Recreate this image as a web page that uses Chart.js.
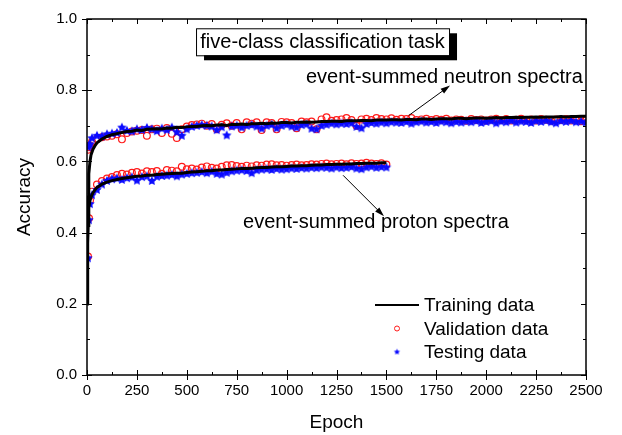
<!DOCTYPE html>
<html>
<head>
<meta charset="utf-8">
<script src="https://cdn.jsdelivr.net/npm/chart.js@4.4.1/dist/chart.umd.min.js"></script>
<style>
    html, body { margin: 0; padding: 0; background: #fff; }
    #accChart { display: block; }
</style>
</head>
<body>
<canvas id="accChart" width="622" height="435"></canvas>
<script>
const FONT = '"Liberation Sans", Arial, sans-serif';

// epochs for the training curves: a few early points, then every 25 epochs from 100
const trainEarlyEpochs = [0, 2, 4, 6, 8, 10, 15, 20, 30, 40, 50, 75];
// epochs for validation / testing markers: 5, 10, 15, then every 25 epochs from 25
const markerEarlyEpochs = [5, 10, 15];

// neutron spectra, training accuracy
const neutronTrain = [
    0.20, 0.33, 0.44, 0.50, 0.54, 0.565, 0.60, 0.618, 0.634, 0.644, 0.652, 0.663,
    0.670, 0.675, 0.678, 0.681, 0.684, 0.685, 0.688, 0.687, 0.690, 0.691,
    0.692, 0.691, 0.694, 0.693, 0.696, 0.695, 0.697, 0.698, 0.698, 0.700,
    0.701, 0.700, 0.702, 0.703, 0.701, 0.704, 0.704, 0.705, 0.704, 0.706,
    0.706, 0.707, 0.706, 0.708, 0.707, 0.709, 0.709, 0.708, 0.710, 0.710,
    0.711, 0.710, 0.711, 0.712, 0.712, 0.713, 0.713, 0.712, 0.714, 0.714,
    0.714, 0.715, 0.715, 0.714, 0.716, 0.716, 0.716, 0.717, 0.717, 0.716,
    0.718, 0.718, 0.717, 0.719, 0.719, 0.718, 0.719, 0.720, 0.720, 0.719,
    0.721, 0.721, 0.720, 0.721, 0.722, 0.722, 0.721, 0.722, 0.723, 0.722,
    0.723, 0.723, 0.724, 0.723, 0.724, 0.724, 0.725, 0.724, 0.725, 0.725,
    0.725, 0.726, 0.725, 0.726, 0.726, 0.727, 0.727
];

// proton spectra, training accuracy (stops at epoch 1500)
const protonTrain = [
    0.20, 0.30, 0.37, 0.42, 0.45, 0.47, 0.49, 0.50, 0.512, 0.52, 0.527, 0.536,
    0.542, 0.546, 0.549, 0.552, 0.554, 0.556, 0.558, 0.559, 0.561, 0.561,
    0.563, 0.564, 0.565, 0.566, 0.567, 0.567, 0.569, 0.570, 0.571, 0.572,
    0.574, 0.574, 0.576, 0.576, 0.577, 0.578, 0.579, 0.580, 0.580, 0.581,
    0.582, 0.583, 0.583, 0.584, 0.585, 0.585, 0.586, 0.587, 0.587, 0.588,
    0.588, 0.589, 0.590, 0.590, 0.591, 0.591, 0.592, 0.592, 0.593, 0.593,
    0.594, 0.594, 0.595, 0.595, 0.595, 0.596, 0.596
];

const neutronVal = [
    0.633, 0.640, 0.645,
    0.655, 0.663, 0.668, 0.670, 0.672, 0.676, 0.662, 0.680, 0.684, 0.686,
    0.688, 0.672, 0.690, 0.692, 0.680, 0.694, 0.678, 0.666, 0.690, 0.698,
    0.702, 0.704, 0.706, 0.700, 0.705, 0.690, 0.703, 0.707, 0.700, 0.708,
    0.690, 0.710, 0.706, 0.710, 0.688, 0.710, 0.708, 0.690, 0.711, 0.710,
    0.708, 0.693, 0.712, 0.710, 0.712, 0.690, 0.718, 0.724, 0.714, 0.716,
    0.718, 0.722, 0.716, 0.700, 0.718, 0.720, 0.716, 0.722, 0.719, 0.718,
    0.721, 0.717, 0.720, 0.719, 0.722, 0.716, 0.718, 0.720, 0.716, 0.719,
    0.717, 0.720, 0.715, 0.718, 0.717, 0.714, 0.719, 0.716, 0.718, 0.715,
    0.718, 0.720, 0.716, 0.719, 0.715, 0.717, 0.720, 0.716, 0.718, 0.715,
    0.719, 0.717, 0.714, 0.718, 0.716, 0.719, 0.715, 0.717, 0.713, 0.716
];

const neutronTest = [
    0.640, 0.645, 0.648,
    0.665, 0.672, 0.670, 0.676, 0.678, 0.680, 0.695, 0.686, 0.684, 0.690,
    0.688, 0.694, 0.690, 0.685, 0.692, 0.688, 0.695, 0.682, 0.672, 0.690,
    0.697, 0.700, 0.702, 0.700, 0.698, 0.688, 0.696, 0.673, 0.698, 0.700,
    0.695, 0.700, 0.702, 0.698, 0.692, 0.700, 0.703, 0.693, 0.700, 0.703,
    0.698, 0.695, 0.702, 0.704, 0.692, 0.690, 0.700, 0.703, 0.706, 0.704,
    0.706, 0.705, 0.707, 0.697, 0.693, 0.705, 0.708, 0.706, 0.709, 0.707,
    0.710, 0.709, 0.708, 0.711, 0.706, 0.710, 0.712, 0.709, 0.711, 0.708,
    0.712, 0.710, 0.707, 0.711, 0.709, 0.712, 0.710, 0.713, 0.708, 0.711,
    0.713, 0.707, 0.712, 0.710, 0.714, 0.709, 0.712, 0.711, 0.708, 0.713,
    0.711, 0.714, 0.710, 0.707, 0.713, 0.711, 0.714, 0.710, 0.712, 0.709
];

const protonVal = [
    0.333, 0.440, 0.490,
    0.515, 0.535, 0.545, 0.552, 0.556, 0.562, 0.565, 0.563, 0.568, 0.570,
    0.566, 0.572, 0.570, 0.573, 0.565, 0.576, 0.574, 0.572, 0.585, 0.578,
    0.580, 0.577, 0.583, 0.586, 0.582, 0.580, 0.585, 0.589, 0.590, 0.587,
    0.585, 0.588, 0.586, 0.589, 0.588, 0.591, 0.592, 0.589, 0.590, 0.588,
    0.590, 0.591, 0.589, 0.590, 0.592, 0.591, 0.593, 0.594, 0.592, 0.593,
    0.594, 0.592, 0.595, 0.593, 0.594, 0.596, 0.594, 0.593, 0.595, 0.591
];

const protonTest = [
    0.328, 0.435, 0.480,
    0.505, 0.520, 0.535, 0.545, 0.550, 0.552, 0.548, 0.553, 0.555, 0.546,
    0.556, 0.558, 0.545, 0.557, 0.559, 0.560, 0.562, 0.558, 0.563, 0.565,
    0.567, 0.568, 0.570, 0.567, 0.571, 0.565, 0.563, 0.568, 0.572, 0.574,
    0.575, 0.573, 0.567, 0.575, 0.577, 0.578, 0.576, 0.579, 0.577, 0.578,
    0.580, 0.579, 0.581, 0.580, 0.582, 0.581, 0.583, 0.582, 0.580, 0.583,
    0.581, 0.582, 0.584, 0.580, 0.578, 0.583, 0.585, 0.582, 0.584, 0.583
];

const legendLabels = ["Training data", "Validation data", "Testing data"];

function epochGrid(early, start, count) {
    const out = early.slice();
    for (let i = 0; i < count; i++) out.push(start + i * 25);
    return out;
}

function toPoints(epochs, values) {
    return values.map((v, i) => ({ x: epochs[i], y: v }));
}

function makeStar(r, color) {
    const c = document.createElement("canvas");
    const s = Math.ceil(r * 2) + 2;
    c.width = s;
    c.height = s;
    const g = c.getContext("2d");
    g.fillStyle = color;
    g.beginPath();
    for (let i = 0; i < 10; i++) {
        const rad = i % 2 === 0 ? r : r * 0.5;
        const a = -Math.PI / 2 + (i * Math.PI) / 5;
        g.lineTo(s / 2 + rad * Math.cos(a), s / 2 + rad * Math.sin(a));
    }
    g.closePath();
    g.fill();
    return c;
}

const trainEpochsN = epochGrid(trainEarlyEpochs, 100, neutronTrain.length - trainEarlyEpochs.length);
const trainEpochsP = epochGrid(trainEarlyEpochs, 100, protonTrain.length - trainEarlyEpochs.length);
const markEpochsN = epochGrid(markerEarlyEpochs, 25, neutronVal.length - markerEarlyEpochs.length);
const markEpochsP = epochGrid(markerEarlyEpochs, 25, protonVal.length - markerEarlyEpochs.length);

const blueStar = makeStar(5, "#0a0aff");
const legendStar = makeStar(3.2, "#0a0aff");

function lineSet(data) {
    return {
        data: data,
        showLine: true,
        borderColor: "#000",
        borderWidth: 3,
        pointRadius: 0,
        tension: 0,
    };
}

function circleSet(data) {
    return {
        data: data,
        showLine: false,
        pointStyle: "circle",
        pointRadius: 3.4,
        borderWidth: 1.2,
        borderColor: "#ff1a1a",
        backgroundColor: "rgba(255,255,255,0)",
    };
}

function starSet(data) {
    return {
        data: data,
        showLine: false,
        pointStyle: blueStar,
        pointRadius: 5,
    };
}

// frame with Origin-style ticks on all four sides
const frameTicks = {
    id: "frameTicks",
    afterDraw(chart) {
        const { ctx, chartArea: a, scales } = chart;
        const xs = scales.x;
        const ys = scales.y;
        ctx.save();
        ctx.strokeStyle = "#000";
        ctx.lineWidth = 1.5;
        ctx.strokeRect(a.left, a.top, a.right - a.left, a.bottom - a.top);
        ctx.lineWidth = 1;
        ctx.beginPath();
        const xMajor = xs.ticks.map((t) => t.value);
        const yMajor = ys.ticks.map((t) => t.value);
        xMajor.forEach((v, i) => {
            const px = Math.round(xs.getPixelForValue(v)) + 0.5;
            ctx.moveTo(px, a.bottom + 5);
            ctx.lineTo(px, a.bottom - 5);
            ctx.moveTo(px, a.top);
            ctx.lineTo(px, a.top + 5);
            if (i < xMajor.length - 1) {
                const mx = Math.round(xs.getPixelForValue((v + xMajor[i + 1]) / 2)) + 0.5;
                ctx.moveTo(mx, a.bottom);
                ctx.lineTo(mx, a.bottom - 3);
                ctx.moveTo(mx, a.top);
                ctx.lineTo(mx, a.top + 3);
            }
        });
        yMajor.forEach((v, i) => {
            const py = Math.round(ys.getPixelForValue(v)) + 0.5;
            ctx.moveTo(a.left - 5, py);
            ctx.lineTo(a.left + 5, py);
            ctx.moveTo(a.right, py);
            ctx.lineTo(a.right - 5, py);
            if (i < yMajor.length - 1) {
                const my = Math.round(ys.getPixelForValue((v + yMajor[i + 1]) / 2)) + 0.5;
                ctx.moveTo(a.left, my);
                ctx.lineTo(a.left + 3, my);
                ctx.moveTo(a.right, my);
                ctx.lineTo(a.right - 3, my);
            }
        });
        ctx.stroke();
        ctx.restore();
    },
};

function drawArrow(ctx, x1, y1, x2, y2) {
    const ang = Math.atan2(y2 - y1, x2 - x1);
    const head = 10;
    ctx.beginPath();
    ctx.moveTo(x1, y1);
    ctx.lineTo(x2 - Math.cos(ang) * head * 0.8, y2 - Math.sin(ang) * head * 0.8);
    ctx.stroke();
    ctx.beginPath();
    ctx.moveTo(x2, y2);
    ctx.lineTo(x2 - head * Math.cos(ang - 0.3), y2 - head * Math.sin(ang - 0.3));
    ctx.lineTo(x2 - head * Math.cos(ang + 0.3), y2 - head * Math.sin(ang + 0.3));
    ctx.closePath();
    ctx.fill();
}

const annotations = {
    id: "annotations",
    afterDraw(chart) {
        const { ctx, chartArea: a, scales } = chart;
        const X = (v) => scales.x.getPixelForValue(v);
        const Y = (v) => scales.y.getPixelForValue(v);
        ctx.save();
        ctx.fillStyle = "#000";
        ctx.strokeStyle = "#000";
        ctx.textBaseline = "middle";

        // title box with drop shadow
        const bw = 253, bh = 27;
        const bx = X(1180) - bw / 2;
        const by = Y(0.936) - bh / 2;
        ctx.fillRect(bx + 8, by + 5, bw, bh);
        ctx.fillStyle = "#fff";
        ctx.fillRect(bx, by, bw, bh);
        ctx.lineWidth = 1;
        ctx.strokeRect(bx + 0.5, by + 0.5, bw, bh);
        ctx.fillStyle = "#000";
        ctx.font = "20px " + FONT;
        ctx.textAlign = "center";
        ctx.fillText("five-class classification task", bx + bw / 2, by + bh / 2 + 1);

        ctx.textAlign = "left";
        ctx.fillText("event-summed neutron spectra", X(1097), Y(0.836));
        ctx.fillText("event-summed proton spectra", X(782), Y(0.428));

        ctx.lineWidth = 1;
        drawArrow(ctx, X(1612), Y(0.729), X(1819), Y(0.813));
        drawArrow(ctx, X(1283), Y(0.561), X(1488), Y(0.446));

        // legend
        const lx = a.left + 288;
        const ly = a.top + 286;
        const gap = 23.5;
        ctx.font = "19px " + FONT;
        ctx.lineWidth = 2;
        ctx.beginPath();
        ctx.moveTo(lx, ly);
        ctx.lineTo(lx + 44, ly);
        ctx.stroke();
        ctx.lineWidth = 1;
        ctx.strokeStyle = "#ff1a1a";
        ctx.beginPath();
        ctx.arc(lx + 22, ly + gap, 2.5, 0, Math.PI * 2);
        ctx.stroke();
        ctx.drawImage(legendStar, lx + 22 - legendStar.width / 2, ly + 2 * gap - legendStar.height / 2);
        ctx.fillStyle = "#000";
        legendLabels.forEach((t, i) => ctx.fillText(t, lx + 49, ly + i * gap + 1));
        ctx.restore();
    },
};

new Chart(document.getElementById("accChart"), {
    type: "scatter",
    data: {
        datasets: [
            lineSet(toPoints(trainEpochsN, neutronTrain)),
            lineSet(toPoints(trainEpochsP, protonTrain)),
            starSet(toPoints(markEpochsN, neutronTest)),
            starSet(toPoints(markEpochsP, protonTest)),
            circleSet(toPoints(markEpochsN, neutronVal)),
            circleSet(toPoints(markEpochsP, protonVal)),
        ],
    },
    options: {
        responsive: false,
        animation: false,
        events: [],
        layout: { padding: { top: 15, right: 36, left: 0, bottom: 0 } },
        plugins: { legend: { display: false }, tooltip: { enabled: false } },
        scales: {
            x: {
                type: "linear",
                min: 0,
                max: 2500,
                grid: { display: false, drawTicks: false },
                border: { display: false },
                ticks: {
                    stepSize: 250,
                    autoSkip: false,
                    maxRotation: 0,
                    padding: 7,
                    color: "#000",
                    font: { family: FONT, size: 15 },
                    callback: (v) => String(v),
                },
                title: {
                    display: true,
                    text: "Epoch",
                    color: "#000",
                    font: { family: FONT, size: 19 },
                    padding: { top: 0, bottom: 1 },
                },
                afterFit(scale) {
                    scale.height = 60;
                },
            },
            y: {
                type: "linear",
                min: 0,
                max: 1,
                grid: { display: false, drawTicks: false },
                border: { display: false },
                ticks: {
                    stepSize: 0.2,
                    padding: 10,
                    color: "#000",
                    font: { family: FONT, size: 15 },
                    callback: (v) => v.toFixed(1),
                },
                title: {
                    display: true,
                    text: "Accuracy",
                    color: "#000",
                    font: { family: FONT, size: 19 },
                    padding: { top: 13, bottom: 0 },
                },
                afterFit(scale) {
                    scale.width = 87;
                },
            },
        },
    },
    plugins: [frameTicks, annotations],
});
</script>
</body>
</html>
